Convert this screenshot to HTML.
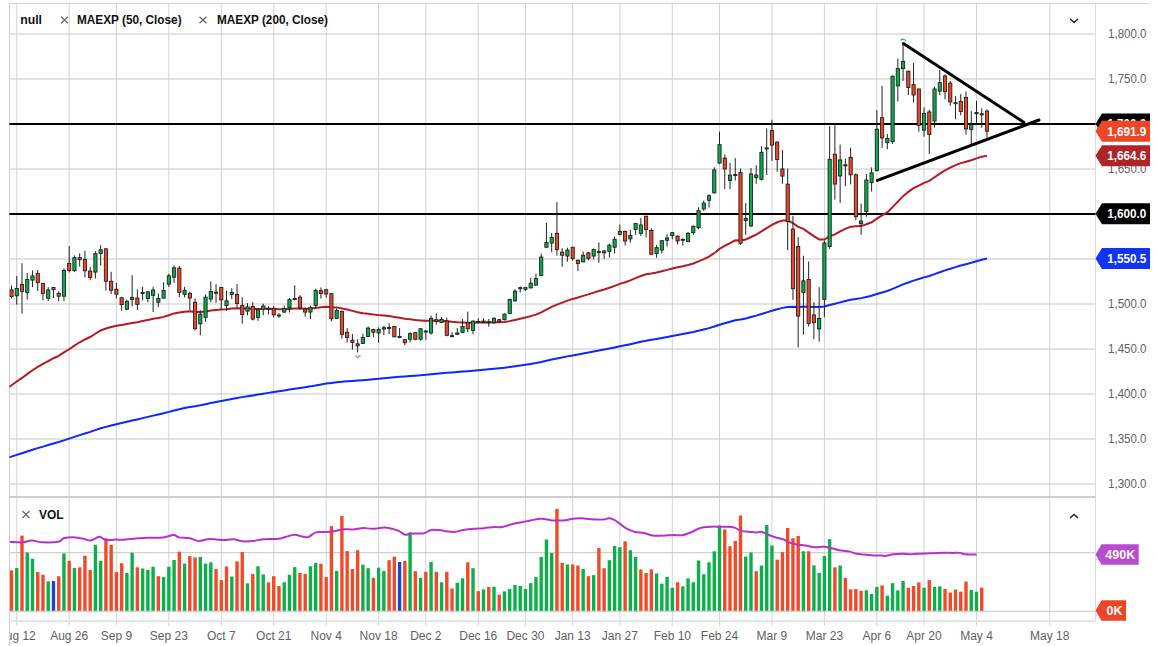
<!DOCTYPE html><html><head><meta charset="utf-8"><style>html,body{margin:0;padding:0;background:#fff;width:1158px;height:646px;overflow:hidden}svg{display:block}text{font-family:"Liberation Sans",sans-serif}</style></head><body>
<svg width="1158" height="646" viewBox="0 0 1158 646">
<defs><clipPath id="cm"><rect x="9.5" y="3.5" width="1086" height="493"/></clipPath><clipPath id="cx"><rect x="9.5" y="600" width="1100" height="46"/></clipPath><clipPath id="cv"><rect x="9.5" y="497" width="1086" height="124"/></clipPath></defs>
<line x1="16.75" y1="3.5" x2="16.75" y2="626" stroke="#d3d3d3" stroke-width="1"/>
<line x1="69.2" y1="3.5" x2="69.2" y2="626" stroke="#d3d3d3" stroke-width="1"/>
<line x1="116.4" y1="3.5" x2="116.4" y2="626" stroke="#d3d3d3" stroke-width="1"/>
<line x1="168.84" y1="3.5" x2="168.84" y2="626" stroke="#d3d3d3" stroke-width="1"/>
<line x1="221.29" y1="3.5" x2="221.29" y2="626" stroke="#d3d3d3" stroke-width="1"/>
<line x1="273.73" y1="3.5" x2="273.73" y2="626" stroke="#d3d3d3" stroke-width="1"/>
<line x1="326.18" y1="3.5" x2="326.18" y2="626" stroke="#d3d3d3" stroke-width="1"/>
<line x1="378.62" y1="3.5" x2="378.62" y2="626" stroke="#d3d3d3" stroke-width="1"/>
<line x1="425.82" y1="3.5" x2="425.82" y2="626" stroke="#d3d3d3" stroke-width="1"/>
<line x1="478.27" y1="3.5" x2="478.27" y2="626" stroke="#d3d3d3" stroke-width="1"/>
<line x1="525.47" y1="3.5" x2="525.47" y2="626" stroke="#d3d3d3" stroke-width="1"/>
<line x1="572.67" y1="3.5" x2="572.67" y2="626" stroke="#d3d3d3" stroke-width="1"/>
<line x1="619.87" y1="3.5" x2="619.87" y2="626" stroke="#d3d3d3" stroke-width="1"/>
<line x1="672.31" y1="3.5" x2="672.31" y2="626" stroke="#d3d3d3" stroke-width="1"/>
<line x1="719.51" y1="3.5" x2="719.51" y2="626" stroke="#d3d3d3" stroke-width="1"/>
<line x1="771.96" y1="3.5" x2="771.96" y2="626" stroke="#d3d3d3" stroke-width="1"/>
<line x1="824.4" y1="3.5" x2="824.4" y2="626" stroke="#d3d3d3" stroke-width="1"/>
<line x1="876.85" y1="3.5" x2="876.85" y2="626" stroke="#d3d3d3" stroke-width="1"/>
<line x1="924.05" y1="3.5" x2="924.05" y2="626" stroke="#d3d3d3" stroke-width="1"/>
<line x1="976.49" y1="3.5" x2="976.49" y2="626" stroke="#d3d3d3" stroke-width="1"/>
<line x1="1049.8" y1="3.5" x2="1049.8" y2="626" stroke="#d3d3d3" stroke-width="1"/>
<line x1="9.5" y1="34" x2="1095.5" y2="34" stroke="#c6c6c6" stroke-width="1"/>
<line x1="9.5" y1="79" x2="1095.5" y2="79" stroke="#c6c6c6" stroke-width="1"/>
<line x1="9.5" y1="124" x2="1095.5" y2="124" stroke="#c6c6c6" stroke-width="1"/>
<line x1="9.5" y1="169" x2="1095.5" y2="169" stroke="#c6c6c6" stroke-width="1"/>
<line x1="9.5" y1="214" x2="1095.5" y2="214" stroke="#c6c6c6" stroke-width="1"/>
<line x1="9.5" y1="259" x2="1095.5" y2="259" stroke="#c6c6c6" stroke-width="1"/>
<line x1="9.5" y1="304" x2="1095.5" y2="304" stroke="#c6c6c6" stroke-width="1"/>
<line x1="9.5" y1="349" x2="1095.5" y2="349" stroke="#c6c6c6" stroke-width="1"/>
<line x1="9.5" y1="394" x2="1095.5" y2="394" stroke="#c6c6c6" stroke-width="1"/>
<line x1="9.5" y1="439" x2="1095.5" y2="439" stroke="#c6c6c6" stroke-width="1"/>
<line x1="9.5" y1="484" x2="1095.5" y2="484" stroke="#c6c6c6" stroke-width="1"/>
<line x1="9.5" y1="552.7" x2="1095.5" y2="552.7" stroke="#c6c6c6" stroke-width="1"/>
<line x1="9.5" y1="611.3" x2="1095.5" y2="611.3" stroke="#c6c6c6" stroke-width="1"/>
<line x1="9.5" y1="3.5" x2="1149" y2="3.5" stroke="#cfcfcf" stroke-width="1"/>
<line x1="9.5" y1="3.5" x2="9.5" y2="646" stroke="#cfcfcf" stroke-width="1"/>
<line x1="1095.5" y1="3.5" x2="1095.5" y2="621" stroke="#dcdcdc" stroke-width="1"/>
<line x1="9.5" y1="497" x2="1095.5" y2="497" stroke="#cdcdcd" stroke-width="2"/>
<line x1="9.5" y1="621" x2="1095.5" y2="621" stroke="#dcdcdc" stroke-width="1.5"/>
<g clip-path="url(#cm)">
<line x1="9" y1="124" x2="1096" y2="124" stroke="#000" stroke-width="2"/>
<line x1="9" y1="214" x2="1096" y2="214" stroke="#000" stroke-width="2"/>
<path d="M6.26 388.9 L11.51 385.28 L16.75 381.49 L21.99 377.95 L27.24 374.09 L32.48 370.24 L37.73 366.81 L42.97 363.93 L48.22 361.03 L53.46 358.23 L58.71 355.8 L63.95 352.45 L69.2 349.23 L74.44 345.64 L79.68 342.27 L84.93 339.47 L90.17 337.03 L95.42 333.76 L100.66 330.47 L105.91 328.54 L111.15 327.04 L116.4 325.75 L121.64 324.92 L126.88 323.99 L132.13 322.95 L137.37 322.22 L142.62 321.09 L147.86 319.95 L153.11 318.77 L158.35 317.98 L163.6 316.9 L168.84 315.28 L174.09 313.42 L179.33 312.6 L184.57 311.73 L189.82 311.2 L195.06 311.89 L200.31 311.97 L205.55 311.39 L210.8 310.61 L216.04 309.93 L221.29 309.54 L226.53 309.2 L231.77 308.53 L237.02 308.33 L242.26 308.58 L247.51 308.51 L252.75 308.93 L258 308.96 L263.24 308.84 L268.49 308.82 L273.73 309.06 L278.98 309.31 L284.22 309.28 L289.46 308.9 L294.71 308.53 L299.95 308.51 L305.2 308.65 L310.44 308.6 L315.69 307.89 L320.93 307.33 L326.18 306.8 L331.42 307.27 L336.66 307.39 L341.91 308.45 L347.15 309.59 L352.4 310.88 L357.64 312.24 L362.89 313.23 L368.13 313.81 L373.38 314.54 L378.62 315.12 L383.87 315.62 L389.11 316.08 L394.35 316.89 L399.6 317.69 L404.84 318.67 L410.09 319.26 L415.33 320.04 L420.58 320.38 L425.82 320.8 L431.07 320.7 L436.31 320.73 L441.55 320.68 L446.8 321.26 L452.04 321.85 L457.29 322.28 L462.53 322.44 L467.78 322.69 L473.02 322.63 L478.27 322.58 L483.51 322.52 L488.76 322.53 L494 322.36 L499.24 322.32 L504.49 322 L509.73 321.12 L514.98 319.94 L520.22 318.67 L525.47 317.46 L530.71 316.11 L535.96 314.64 L541.2 312.38 L546.44 309.64 L551.69 306.81 L556.93 304.57 L562.18 302.63 L567.42 300.57 L572.67 298.91 L577.91 297.53 L583.16 295.87 L588.4 294.4 L593.65 292.64 L598.89 291.03 L604.13 289.54 L609.38 287.8 L614.62 285.9 L619.87 283.87 L625.11 282.19 L630.36 280.36 L635.6 278.13 L640.85 276.05 L646.09 274.22 L651.33 273.44 L656.58 272.43 L661.82 271.18 L667.07 269.88 L672.31 268.42 L677.56 267.34 L682.8 266.25 L688.05 264.95 L693.29 263.44 L698.54 261.37 L703.78 259.08 L709.02 256.6 L714.27 253.2 L719.51 248.94 L724.76 245.81 L730 243.03 L735.25 240.35 L740.49 240.46 L745.74 239.6 L750.98 237.02 L756.22 234.59 L761.47 231.36 L766.71 228.09 L771.96 224.83 L777.2 222.27 L782.45 220.46 L787.69 220.5 L792.94 223.18 L798.18 226.82 L803.43 228.94 L808.67 232.65 L813.91 236.17 L819.16 239.4 L824.4 239.54 L829.65 236.39 L834.89 234.34 L840.14 231.42 L845.38 228.81 L850.63 226.69 L855.87 226.3 L861.11 226.09 L866.36 224.28 L871.6 222.27 L876.85 218.62 L882.09 215.45 L887.34 212.43 L892.58 207.09 L897.83 201.65 L903.07 196.15 L908.32 191.89 L913.56 188.09 L918.8 185.63 L924.05 182.8 L929.29 180.91 L934.54 177.3 L939.78 173.59 L945.03 170.38 L950.27 167.7 L955.52 165.19 L960.76 163.08 L966 161.74 L971.25 160.27 L976.49 158.4 L981.74 156.65 L986.98 155.65" fill="none" stroke="#b31a22" stroke-width="2"/>
<path d="M6.26 458.2 L11.51 456.59 L16.75 454.92 L21.99 453.29 L27.24 451.56 L32.48 449.82 L37.73 448.15 L42.97 446.61 L48.22 445.05 L53.46 443.51 L58.71 442.04 L63.95 440.33 L69.2 438.64 L74.44 436.84 L79.68 435.08 L84.93 433.45 L90.17 431.89 L95.42 430.12 L100.66 428.32 L105.91 426.86 L111.15 425.5 L116.4 424.19 L121.64 423.01 L126.88 421.79 L132.13 420.56 L137.37 419.4 L142.62 418.15 L147.86 416.89 L153.11 415.63 L158.35 414.46 L163.6 413.23 L168.84 411.86 L174.09 410.43 L179.33 409.25 L184.57 408.07 L189.82 406.98 L195.06 406.2 L200.31 405.28 L205.55 404.21 L210.8 403.08 L216.04 401.99 L221.29 400.98 L226.53 399.98 L231.77 398.91 L237.02 397.96 L242.26 397.13 L247.51 396.23 L252.75 395.46 L258 394.61 L263.24 393.73 L268.49 392.88 L273.73 392.1 L278.98 391.34 L284.22 390.51 L289.46 389.61 L294.71 388.71 L299.95 387.91 L305.2 387.16 L310.44 386.36 L315.69 385.41 L320.93 384.49 L326.18 383.59 L331.42 382.95 L336.66 382.23 L341.91 381.75 L347.15 381.31 L352.4 380.92 L357.64 380.57 L362.89 380.14 L368.13 379.63 L373.38 379.15 L378.62 378.66 L383.87 378.15 L389.11 377.65 L394.35 377.24 L399.6 376.84 L404.84 376.5 L410.09 376.08 L415.33 375.71 L420.58 375.24 L425.82 374.8 L431.07 374.24 L436.31 373.72 L441.55 373.18 L446.8 372.8 L452.04 372.44 L457.29 372.04 L462.53 371.59 L467.78 371.16 L473.02 370.67 L478.27 370.17 L483.51 369.69 L488.76 369.22 L494 368.71 L499.24 368.24 L504.49 367.7 L509.73 367.02 L514.98 366.27 L520.22 365.49 L525.47 364.71 L530.71 363.9 L535.96 363.05 L541.2 362 L546.44 360.81 L551.69 359.58 L556.93 358.48 L562.18 357.46 L567.42 356.39 L572.67 355.41 L577.91 354.5 L583.16 353.51 L588.4 352.57 L593.65 351.54 L598.89 350.55 L604.13 349.57 L609.38 348.54 L614.62 347.45 L619.87 346.32 L625.11 345.28 L630.36 344.18 L635.6 342.98 L640.85 341.81 L646.09 340.69 L651.33 339.83 L656.58 338.91 L661.82 337.94 L667.07 336.94 L672.31 335.9 L677.56 334.96 L682.8 334.01 L688.05 333.01 L693.29 331.94 L698.54 330.74 L703.78 329.47 L709.02 328.14 L714.27 326.56 L719.51 324.75 L724.76 323.2 L730 321.73 L735.25 320.26 L740.49 319.5 L745.74 318.49 L750.98 317.05 L756.22 315.64 L761.47 314.01 L766.71 312.36 L771.96 310.7 L777.2 309.19 L782.45 307.87 L787.69 307.01 L792.94 306.83 L798.18 306.92 L803.43 306.66 L808.67 306.83 L813.91 306.98 L819.16 307.1 L824.4 306.46 L829.65 304.99 L834.89 303.79 L840.14 302.36 L845.38 300.99 L850.63 299.74 L855.87 298.91 L861.11 298.13 L866.36 296.96 L871.6 295.72 L876.85 294.07 L882.09 292.51 L887.34 290.98 L892.58 288.84 L897.83 286.65 L903.07 284.41 L908.32 282.45 L913.56 280.58 L918.8 279.04 L924.05 277.39 L929.29 275.97 L934.54 274.11 L939.78 272.2 L945.03 270.41 L950.27 268.73 L955.52 267.09 L960.76 265.54 L966 264.18 L971.25 262.79 L976.49 261.29 L981.74 259.83 L986.98 258.55" fill="none" stroke="#0a28ff" stroke-width="2"/>
<line x1="11.51" y1="285.47" x2="11.51" y2="298.29" stroke="#222" stroke-width="1"/>
<rect x="9.91" y="289.93" width="3.2" height="6.69" fill="#ee4527" stroke="#1a1a1a" stroke-width="0.85"/>
<line x1="16.75" y1="275.99" x2="16.75" y2="304.56" stroke="#222" stroke-width="1"/>
<rect x="15.15" y="288.54" width="3.2" height="7.25" fill="#07ad4b" stroke="#1a1a1a" stroke-width="0.85"/>
<line x1="21.99" y1="263.17" x2="21.99" y2="313.62" stroke="#222" stroke-width="1"/>
<rect x="20.39" y="284.36" width="3.2" height="6.97" fill="#ee4527" stroke="#1a1a1a" stroke-width="0.85"/>
<line x1="27.24" y1="272.93" x2="27.24" y2="299.69" stroke="#222" stroke-width="1"/>
<rect x="25.64" y="279.48" width="3.2" height="12.96" fill="#07ad4b" stroke="#1a1a1a" stroke-width="0.85"/>
<line x1="32.48" y1="270.42" x2="32.48" y2="287.14" stroke="#222" stroke-width="1"/>
<rect x="30.88" y="275.99" width="3.2" height="4.18" fill="#07ad4b" stroke="#1a1a1a" stroke-width="0.85"/>
<line x1="37.73" y1="270" x2="37.73" y2="290.91" stroke="#222" stroke-width="1"/>
<rect x="36.13" y="273.48" width="3.2" height="9.2" fill="#ee4527" stroke="#1a1a1a" stroke-width="0.85"/>
<line x1="42.97" y1="282.96" x2="42.97" y2="300.38" stroke="#222" stroke-width="1"/>
<rect x="41.37" y="283.38" width="3.2" height="10.03" fill="#ee4527" stroke="#1a1a1a" stroke-width="0.85"/>
<line x1="48.22" y1="287.14" x2="48.22" y2="301.08" stroke="#222" stroke-width="1"/>
<rect x="46.62" y="289.93" width="3.2" height="8.36" fill="#07ad4b" stroke="#1a1a1a" stroke-width="0.85"/>
<line x1="53.46" y1="287.14" x2="53.46" y2="298.01" stroke="#222" stroke-width="1"/>
<rect x="51.86" y="287.56" width="3.2" height="2.09" fill="#ee4527" stroke="#1a1a1a" stroke-width="0.85"/>
<line x1="58.71" y1="291.32" x2="58.71" y2="301.36" stroke="#222" stroke-width="1"/>
<rect x="57.11" y="293.41" width="3.2" height="2.79" fill="#ee4527" stroke="#1a1a1a" stroke-width="0.85"/>
<line x1="63.95" y1="268.33" x2="63.95" y2="300.8" stroke="#222" stroke-width="1"/>
<rect x="62.35" y="270.42" width="3.2" height="25.78" fill="#07ad4b" stroke="#1a1a1a" stroke-width="0.85"/>
<line x1="69.2" y1="246.03" x2="69.2" y2="272.51" stroke="#222" stroke-width="1"/>
<rect x="67.6" y="263.45" width="3.2" height="6.97" fill="#ee4527" stroke="#1a1a1a" stroke-width="0.85"/>
<line x1="74.44" y1="255.37" x2="74.44" y2="271.81" stroke="#222" stroke-width="1"/>
<rect x="72.84" y="257.6" width="3.2" height="13.1" fill="#07ad4b" stroke="#1a1a1a" stroke-width="0.85"/>
<line x1="79.68" y1="253.41" x2="79.68" y2="266.52" stroke="#222" stroke-width="1"/>
<rect x="78.08" y="257.6" width="3.2" height="2.09" fill="#ee4527" stroke="#1a1a1a" stroke-width="0.85"/>
<line x1="84.93" y1="250.63" x2="84.93" y2="277.39" stroke="#222" stroke-width="1"/>
<rect x="83.33" y="259.55" width="3.2" height="11.29" fill="#ee4527" stroke="#1a1a1a" stroke-width="0.85"/>
<line x1="90.17" y1="266.93" x2="90.17" y2="280.17" stroke="#222" stroke-width="1"/>
<rect x="88.57" y="271.11" width="3.2" height="6.27" fill="#ee4527" stroke="#1a1a1a" stroke-width="0.85"/>
<line x1="95.42" y1="251.18" x2="95.42" y2="278.5" stroke="#222" stroke-width="1"/>
<rect x="93.82" y="253.69" width="3.2" height="18.4" fill="#07ad4b" stroke="#1a1a1a" stroke-width="0.85"/>
<line x1="100.66" y1="245.05" x2="100.66" y2="265.54" stroke="#222" stroke-width="1"/>
<rect x="99.06" y="249.79" width="3.2" height="3.62" fill="#07ad4b" stroke="#1a1a1a" stroke-width="0.85"/>
<line x1="105.91" y1="248.12" x2="105.91" y2="290.63" stroke="#222" stroke-width="1"/>
<rect x="104.31" y="248.82" width="3.2" height="32.47" fill="#ee4527" stroke="#1a1a1a" stroke-width="0.85"/>
<line x1="111.15" y1="271.81" x2="111.15" y2="294.11" stroke="#222" stroke-width="1"/>
<rect x="109.55" y="281.29" width="3.2" height="8.92" fill="#ee4527" stroke="#1a1a1a" stroke-width="0.85"/>
<line x1="116.4" y1="282.96" x2="116.4" y2="298.57" stroke="#222" stroke-width="1"/>
<rect x="114.8" y="289.23" width="3.2" height="4.88" fill="#ee4527" stroke="#1a1a1a" stroke-width="0.85"/>
<line x1="121.64" y1="296.69" x2="121.64" y2="310.63" stroke="#222" stroke-width="1"/>
<rect x="120.04" y="297.8" width="3.2" height="6.83" fill="#ee4527" stroke="#1a1a1a" stroke-width="0.85"/>
<line x1="126.88" y1="299.48" x2="126.88" y2="309.93" stroke="#222" stroke-width="1"/>
<rect x="125.28" y="301.29" width="3.2" height="7.94" fill="#07ad4b" stroke="#1a1a1a" stroke-width="0.85"/>
<line x1="132.13" y1="275.09" x2="132.13" y2="306.45" stroke="#222" stroke-width="1"/>
<rect x="130.53" y="297.39" width="3.2" height="2.09" fill="#07ad4b" stroke="#1a1a1a" stroke-width="0.85"/>
<line x1="137.37" y1="289.44" x2="137.37" y2="309.93" stroke="#222" stroke-width="1"/>
<rect x="135.77" y="298.08" width="3.2" height="6.27" fill="#ee4527" stroke="#1a1a1a" stroke-width="0.85"/>
<line x1="142.62" y1="286.93" x2="142.62" y2="300.45" stroke="#222" stroke-width="1"/>
<rect x="141.02" y="292.51" width="3.2" height="1" fill="#ee4527" stroke="#1a1a1a" stroke-width="0.85"/>
<line x1="147.86" y1="291.11" x2="147.86" y2="302.26" stroke="#222" stroke-width="1"/>
<rect x="146.26" y="291.81" width="3.2" height="6.69" fill="#07ad4b" stroke="#1a1a1a" stroke-width="0.85"/>
<line x1="153.11" y1="286.93" x2="153.11" y2="312.02" stroke="#222" stroke-width="1"/>
<rect x="151.51" y="290" width="3.2" height="5.3" fill="#07ad4b" stroke="#1a1a1a" stroke-width="0.85"/>
<line x1="158.35" y1="293.48" x2="158.35" y2="307.14" stroke="#222" stroke-width="1"/>
<rect x="156.75" y="298.5" width="3.2" height="3.76" fill="#07ad4b" stroke="#1a1a1a" stroke-width="0.85"/>
<line x1="163.6" y1="282.33" x2="163.6" y2="298.78" stroke="#222" stroke-width="1"/>
<rect x="162" y="290.42" width="3.2" height="7.67" fill="#07ad4b" stroke="#1a1a1a" stroke-width="0.85"/>
<line x1="168.84" y1="273.69" x2="168.84" y2="286.93" stroke="#222" stroke-width="1"/>
<rect x="167.24" y="275.78" width="3.2" height="8.36" fill="#07ad4b" stroke="#1a1a1a" stroke-width="0.85"/>
<line x1="174.09" y1="265.33" x2="174.09" y2="282.75" stroke="#222" stroke-width="1"/>
<rect x="172.49" y="267.84" width="3.2" height="9.34" fill="#07ad4b" stroke="#1a1a1a" stroke-width="0.85"/>
<line x1="179.33" y1="266.03" x2="179.33" y2="297.11" stroke="#222" stroke-width="1"/>
<rect x="177.73" y="268.12" width="3.2" height="24.39" fill="#ee4527" stroke="#1a1a1a" stroke-width="0.85"/>
<line x1="184.57" y1="286.93" x2="184.57" y2="297.39" stroke="#222" stroke-width="1"/>
<rect x="182.97" y="290.42" width="3.2" height="3.9" fill="#07ad4b" stroke="#1a1a1a" stroke-width="0.85"/>
<line x1="189.82" y1="291.53" x2="189.82" y2="309.93" stroke="#222" stroke-width="1"/>
<rect x="188.22" y="293.48" width="3.2" height="4.6" fill="#ee4527" stroke="#1a1a1a" stroke-width="0.85"/>
<line x1="195.06" y1="298.36" x2="195.06" y2="330.14" stroke="#222" stroke-width="1"/>
<rect x="193.46" y="302.26" width="3.2" height="26.48" fill="#ee4527" stroke="#1a1a1a" stroke-width="0.85"/>
<line x1="200.31" y1="310.21" x2="200.31" y2="335.3" stroke="#222" stroke-width="1"/>
<rect x="198.71" y="314.11" width="3.2" height="9.76" fill="#07ad4b" stroke="#1a1a1a" stroke-width="0.85"/>
<line x1="205.55" y1="294.32" x2="205.55" y2="321.78" stroke="#222" stroke-width="1"/>
<rect x="203.95" y="297.11" width="3.2" height="20.21" fill="#07ad4b" stroke="#1a1a1a" stroke-width="0.85"/>
<line x1="210.8" y1="281.36" x2="210.8" y2="302.26" stroke="#222" stroke-width="1"/>
<rect x="209.2" y="291.53" width="3.2" height="7.53" fill="#07ad4b" stroke="#1a1a1a" stroke-width="0.85"/>
<line x1="216.04" y1="284.15" x2="216.04" y2="302.68" stroke="#222" stroke-width="1"/>
<rect x="214.44" y="292.09" width="3.2" height="1.11" fill="#ee4527" stroke="#1a1a1a" stroke-width="0.85"/>
<line x1="221.29" y1="287.35" x2="221.29" y2="309.23" stroke="#222" stroke-width="1"/>
<rect x="219.69" y="287.35" width="3.2" height="12.54" fill="#ee4527" stroke="#1a1a1a" stroke-width="0.85"/>
<line x1="226.53" y1="290.7" x2="226.53" y2="310.63" stroke="#222" stroke-width="1"/>
<rect x="224.93" y="300.87" width="3.2" height="4.6" fill="#07ad4b" stroke="#1a1a1a" stroke-width="0.85"/>
<line x1="231.77" y1="288.12" x2="231.77" y2="298.99" stroke="#222" stroke-width="1"/>
<rect x="230.17" y="292.3" width="3.2" height="2.09" fill="#07ad4b" stroke="#1a1a1a" stroke-width="0.85"/>
<line x1="237.02" y1="283.94" x2="237.02" y2="307.63" stroke="#222" stroke-width="1"/>
<rect x="235.42" y="294.39" width="3.2" height="9.06" fill="#ee4527" stroke="#1a1a1a" stroke-width="0.85"/>
<line x1="242.26" y1="297.18" x2="242.26" y2="323.66" stroke="#222" stroke-width="1"/>
<rect x="240.66" y="305.54" width="3.2" height="9.06" fill="#ee4527" stroke="#1a1a1a" stroke-width="0.85"/>
<line x1="247.51" y1="303.17" x2="247.51" y2="315.3" stroke="#222" stroke-width="1"/>
<rect x="245.91" y="306.93" width="3.2" height="4.18" fill="#07ad4b" stroke="#1a1a1a" stroke-width="0.85"/>
<line x1="252.75" y1="302.06" x2="252.75" y2="320.45" stroke="#222" stroke-width="1"/>
<rect x="251.15" y="306.52" width="3.2" height="12.54" fill="#ee4527" stroke="#1a1a1a" stroke-width="0.85"/>
<line x1="258" y1="308.33" x2="258" y2="320.87" stroke="#222" stroke-width="1"/>
<rect x="256.4" y="309.72" width="3.2" height="7.67" fill="#07ad4b" stroke="#1a1a1a" stroke-width="0.85"/>
<line x1="263.24" y1="303.73" x2="263.24" y2="315.3" stroke="#222" stroke-width="1"/>
<rect x="261.64" y="305.96" width="3.2" height="3.34" fill="#07ad4b" stroke="#1a1a1a" stroke-width="0.85"/>
<line x1="268.49" y1="306.24" x2="268.49" y2="314.32" stroke="#222" stroke-width="1"/>
<rect x="266.89" y="308.33" width="3.2" height="1" fill="#07ad4b" stroke="#1a1a1a" stroke-width="0.85"/>
<line x1="273.73" y1="305.96" x2="273.73" y2="317.39" stroke="#222" stroke-width="1"/>
<rect x="272.13" y="308.33" width="3.2" height="6.55" fill="#ee4527" stroke="#1a1a1a" stroke-width="0.85"/>
<line x1="278.98" y1="313.21" x2="278.98" y2="317.67" stroke="#222" stroke-width="1"/>
<rect x="277.38" y="315.02" width="3.2" height="1" fill="#ee4527" stroke="#1a1a1a" stroke-width="0.85"/>
<line x1="284.22" y1="305.54" x2="284.22" y2="312.51" stroke="#222" stroke-width="1"/>
<rect x="282.62" y="308.33" width="3.2" height="3.76" fill="#07ad4b" stroke="#1a1a1a" stroke-width="0.85"/>
<line x1="289.46" y1="297.87" x2="289.46" y2="312.51" stroke="#222" stroke-width="1"/>
<rect x="287.86" y="299.69" width="3.2" height="8.22" fill="#07ad4b" stroke="#1a1a1a" stroke-width="0.85"/>
<line x1="294.71" y1="285.33" x2="294.71" y2="300.38" stroke="#222" stroke-width="1"/>
<rect x="293.11" y="298.57" width="3.2" height="1" fill="#ee4527" stroke="#1a1a1a" stroke-width="0.85"/>
<line x1="299.95" y1="295.09" x2="299.95" y2="309.72" stroke="#222" stroke-width="1"/>
<rect x="298.35" y="297.18" width="3.2" height="10.73" fill="#ee4527" stroke="#1a1a1a" stroke-width="0.85"/>
<line x1="305.2" y1="307.63" x2="305.2" y2="316.69" stroke="#222" stroke-width="1"/>
<rect x="303.6" y="309.02" width="3.2" height="3.07" fill="#ee4527" stroke="#1a1a1a" stroke-width="0.85"/>
<line x1="310.44" y1="305.54" x2="310.44" y2="319.06" stroke="#222" stroke-width="1"/>
<rect x="308.84" y="307.35" width="3.2" height="4.74" fill="#07ad4b" stroke="#1a1a1a" stroke-width="0.85"/>
<line x1="315.69" y1="288.82" x2="315.69" y2="307.63" stroke="#222" stroke-width="1"/>
<rect x="314.09" y="290.63" width="3.2" height="14.91" fill="#07ad4b" stroke="#1a1a1a" stroke-width="0.85"/>
<line x1="320.93" y1="287.42" x2="320.93" y2="298.57" stroke="#222" stroke-width="1"/>
<rect x="319.33" y="290.63" width="3.2" height="2.79" fill="#ee4527" stroke="#1a1a1a" stroke-width="0.85"/>
<line x1="326.18" y1="288.82" x2="326.18" y2="297.6" stroke="#222" stroke-width="1"/>
<rect x="324.58" y="289.79" width="3.2" height="4.18" fill="#ee4527" stroke="#1a1a1a" stroke-width="0.85"/>
<line x1="331.42" y1="293" x2="331.42" y2="321.29" stroke="#222" stroke-width="1"/>
<rect x="329.82" y="293.69" width="3.2" height="25.09" fill="#ee4527" stroke="#1a1a1a" stroke-width="0.85"/>
<line x1="336.66" y1="308.57" x2="336.66" y2="318.75" stroke="#222" stroke-width="1"/>
<rect x="335.06" y="310.38" width="3.2" height="7.94" fill="#07ad4b" stroke="#1a1a1a" stroke-width="0.85"/>
<line x1="341.91" y1="310.66" x2="341.91" y2="338.54" stroke="#222" stroke-width="1"/>
<rect x="340.31" y="311.36" width="3.2" height="23" fill="#ee4527" stroke="#1a1a1a" stroke-width="0.85"/>
<line x1="347.15" y1="328.08" x2="347.15" y2="342.44" stroke="#222" stroke-width="1"/>
<rect x="345.55" y="332.26" width="3.2" height="5.16" fill="#ee4527" stroke="#1a1a1a" stroke-width="0.85"/>
<line x1="352.4" y1="334.08" x2="352.4" y2="349.69" stroke="#222" stroke-width="1"/>
<rect x="350.8" y="340.21" width="3.2" height="2.23" fill="#ee4527" stroke="#1a1a1a" stroke-width="0.85"/>
<line x1="357.64" y1="339.23" x2="357.64" y2="352.47" stroke="#222" stroke-width="1"/>
<rect x="356.04" y="343.83" width="3.2" height="1.95" fill="#ee4527" stroke="#1a1a1a" stroke-width="0.85"/>
<line x1="362.89" y1="333.66" x2="362.89" y2="343.83" stroke="#222" stroke-width="1"/>
<rect x="361.29" y="337.42" width="3.2" height="5.99" fill="#07ad4b" stroke="#1a1a1a" stroke-width="0.85"/>
<line x1="368.13" y1="326.69" x2="368.13" y2="337.14" stroke="#222" stroke-width="1"/>
<rect x="366.53" y="328.08" width="3.2" height="8.36" fill="#07ad4b" stroke="#1a1a1a" stroke-width="0.85"/>
<line x1="373.38" y1="328.78" x2="373.38" y2="337.14" stroke="#222" stroke-width="1"/>
<rect x="371.78" y="329.48" width="3.2" height="2.79" fill="#ee4527" stroke="#1a1a1a" stroke-width="0.85"/>
<line x1="378.62" y1="327.39" x2="378.62" y2="342.72" stroke="#222" stroke-width="1"/>
<rect x="377.02" y="329.48" width="3.2" height="3.48" fill="#07ad4b" stroke="#1a1a1a" stroke-width="0.85"/>
<line x1="383.87" y1="325.99" x2="383.87" y2="335.05" stroke="#222" stroke-width="1"/>
<rect x="382.26" y="327.67" width="3.2" height="1.39" fill="#07ad4b" stroke="#1a1a1a" stroke-width="0.85"/>
<line x1="389.11" y1="323.21" x2="389.11" y2="334.08" stroke="#222" stroke-width="1"/>
<rect x="387.51" y="327.39" width="3.2" height="1" fill="#07ad4b" stroke="#1a1a1a" stroke-width="0.85"/>
<line x1="394.35" y1="325.99" x2="394.35" y2="337.14" stroke="#222" stroke-width="1"/>
<rect x="392.75" y="326.41" width="3.2" height="10.45" fill="#ee4527" stroke="#1a1a1a" stroke-width="0.85"/>
<line x1="399.6" y1="328.08" x2="399.6" y2="338.26" stroke="#222" stroke-width="1"/>
<rect x="398" y="336.45" width="3.2" height="1" fill="#ee4527" stroke="#1a1a1a" stroke-width="0.85"/>
<line x1="404.84" y1="339.23" x2="404.84" y2="345.23" stroke="#222" stroke-width="1"/>
<rect x="403.24" y="339.65" width="3.2" height="3.07" fill="#ee4527" stroke="#1a1a1a" stroke-width="0.85"/>
<line x1="410.09" y1="332.26" x2="410.09" y2="342.44" stroke="#222" stroke-width="1"/>
<rect x="408.49" y="333.66" width="3.2" height="5.57" fill="#07ad4b" stroke="#1a1a1a" stroke-width="0.85"/>
<line x1="415.33" y1="332.26" x2="415.33" y2="340.21" stroke="#222" stroke-width="1"/>
<rect x="413.73" y="332.68" width="3.2" height="6.55" fill="#ee4527" stroke="#1a1a1a" stroke-width="0.85"/>
<line x1="420.58" y1="328.08" x2="420.58" y2="340.63" stroke="#222" stroke-width="1"/>
<rect x="418.98" y="328.78" width="3.2" height="10.45" fill="#07ad4b" stroke="#1a1a1a" stroke-width="0.85"/>
<line x1="425.82" y1="330.17" x2="425.82" y2="339.65" stroke="#222" stroke-width="1"/>
<rect x="424.22" y="331.01" width="3.2" height="1" fill="#07ad4b" stroke="#1a1a1a" stroke-width="0.85"/>
<line x1="431.07" y1="315.54" x2="431.07" y2="334.63" stroke="#222" stroke-width="1"/>
<rect x="429.47" y="318.33" width="3.2" height="14.63" fill="#07ad4b" stroke="#1a1a1a" stroke-width="0.85"/>
<line x1="436.31" y1="313.45" x2="436.31" y2="324.6" stroke="#222" stroke-width="1"/>
<rect x="434.71" y="319.72" width="3.2" height="1.81" fill="#ee4527" stroke="#1a1a1a" stroke-width="0.85"/>
<line x1="441.55" y1="317.18" x2="441.55" y2="323.17" stroke="#222" stroke-width="1"/>
<rect x="439.95" y="319.41" width="3.2" height="3.07" fill="#07ad4b" stroke="#1a1a1a" stroke-width="0.85"/>
<line x1="446.8" y1="317.6" x2="446.8" y2="336.41" stroke="#222" stroke-width="1"/>
<rect x="445.2" y="321.08" width="3.2" height="14.22" fill="#ee4527" stroke="#1a1a1a" stroke-width="0.85"/>
<line x1="452.04" y1="332.23" x2="452.04" y2="337.11" stroke="#222" stroke-width="1"/>
<rect x="450.44" y="335.71" width="3.2" height="1" fill="#ee4527" stroke="#1a1a1a" stroke-width="0.85"/>
<line x1="457.29" y1="328.05" x2="457.29" y2="335.02" stroke="#222" stroke-width="1"/>
<rect x="455.69" y="332.93" width="3.2" height="1.39" fill="#07ad4b" stroke="#1a1a1a" stroke-width="0.85"/>
<line x1="462.53" y1="318.99" x2="462.53" y2="332.93" stroke="#222" stroke-width="1"/>
<rect x="460.93" y="326.38" width="3.2" height="6.13" fill="#07ad4b" stroke="#1a1a1a" stroke-width="0.85"/>
<line x1="467.78" y1="311.6" x2="467.78" y2="332.23" stroke="#222" stroke-width="1"/>
<rect x="466.18" y="322.75" width="3.2" height="5.99" fill="#ee4527" stroke="#1a1a1a" stroke-width="0.85"/>
<line x1="473.02" y1="320.38" x2="473.02" y2="334.32" stroke="#222" stroke-width="1"/>
<rect x="471.42" y="321.08" width="3.2" height="9.48" fill="#07ad4b" stroke="#1a1a1a" stroke-width="0.85"/>
<line x1="478.27" y1="318.29" x2="478.27" y2="323.17" stroke="#222" stroke-width="1"/>
<rect x="476.67" y="321.36" width="3.2" height="1" fill="#07ad4b" stroke="#1a1a1a" stroke-width="0.85"/>
<line x1="483.51" y1="318.29" x2="483.51" y2="323.17" stroke="#222" stroke-width="1"/>
<rect x="481.91" y="321.08" width="3.2" height="1.11" fill="#07ad4b" stroke="#1a1a1a" stroke-width="0.85"/>
<line x1="488.76" y1="318.99" x2="488.76" y2="326.66" stroke="#222" stroke-width="1"/>
<rect x="487.16" y="321.78" width="3.2" height="1" fill="#ee4527" stroke="#1a1a1a" stroke-width="0.85"/>
<line x1="494" y1="317.18" x2="494" y2="323.87" stroke="#222" stroke-width="1"/>
<rect x="492.4" y="318.29" width="3.2" height="4.46" fill="#07ad4b" stroke="#1a1a1a" stroke-width="0.85"/>
<line x1="499.24" y1="318.99" x2="499.24" y2="322.2" stroke="#222" stroke-width="1"/>
<rect x="497.64" y="319.69" width="3.2" height="1.67" fill="#ee4527" stroke="#1a1a1a" stroke-width="0.85"/>
<line x1="504.49" y1="313.41" x2="504.49" y2="320.38" stroke="#222" stroke-width="1"/>
<rect x="502.89" y="314.11" width="3.2" height="5.57" fill="#07ad4b" stroke="#1a1a1a" stroke-width="0.85"/>
<line x1="509.73" y1="298.78" x2="509.73" y2="314.11" stroke="#222" stroke-width="1"/>
<rect x="508.13" y="299.48" width="3.2" height="13.94" fill="#07ad4b" stroke="#1a1a1a" stroke-width="0.85"/>
<line x1="514.98" y1="289.3" x2="514.98" y2="301.57" stroke="#222" stroke-width="1"/>
<rect x="513.38" y="291.11" width="3.2" height="9.76" fill="#07ad4b" stroke="#1a1a1a" stroke-width="0.85"/>
<line x1="520.22" y1="286.52" x2="520.22" y2="292.51" stroke="#222" stroke-width="1"/>
<rect x="518.62" y="287.63" width="3.2" height="1.11" fill="#07ad4b" stroke="#1a1a1a" stroke-width="0.85"/>
<line x1="525.47" y1="286.93" x2="525.47" y2="291.11" stroke="#222" stroke-width="1"/>
<rect x="523.87" y="287.63" width="3.2" height="1.67" fill="#07ad4b" stroke="#1a1a1a" stroke-width="0.85"/>
<line x1="530.71" y1="277.87" x2="530.71" y2="288.33" stroke="#222" stroke-width="1"/>
<rect x="529.11" y="283.17" width="3.2" height="4.74" fill="#07ad4b" stroke="#1a1a1a" stroke-width="0.85"/>
<line x1="535.96" y1="273.69" x2="535.96" y2="285.54" stroke="#222" stroke-width="1"/>
<rect x="534.36" y="278.57" width="3.2" height="6.55" fill="#07ad4b" stroke="#1a1a1a" stroke-width="0.85"/>
<line x1="541.2" y1="253.54" x2="541.2" y2="275.84" stroke="#222" stroke-width="1"/>
<rect x="539.6" y="257.02" width="3.2" height="18.54" fill="#07ad4b" stroke="#1a1a1a" stroke-width="0.85"/>
<line x1="546.44" y1="222.87" x2="546.44" y2="247.68" stroke="#222" stroke-width="1"/>
<rect x="544.84" y="242.39" width="3.2" height="4.88" fill="#07ad4b" stroke="#1a1a1a" stroke-width="0.85"/>
<line x1="551.69" y1="232.91" x2="551.69" y2="252.14" stroke="#222" stroke-width="1"/>
<rect x="550.09" y="237.51" width="3.2" height="5.57" fill="#07ad4b" stroke="#1a1a1a" stroke-width="0.85"/>
<line x1="556.93" y1="201.97" x2="556.93" y2="255.63" stroke="#222" stroke-width="1"/>
<rect x="555.33" y="233.33" width="3.2" height="16.31" fill="#ee4527" stroke="#1a1a1a" stroke-width="0.85"/>
<line x1="562.18" y1="248.24" x2="562.18" y2="266.78" stroke="#222" stroke-width="1"/>
<rect x="560.58" y="252.14" width="3.2" height="3.07" fill="#ee4527" stroke="#1a1a1a" stroke-width="0.85"/>
<line x1="567.42" y1="247.68" x2="567.42" y2="261.62" stroke="#222" stroke-width="1"/>
<rect x="565.82" y="250.05" width="3.2" height="5.99" fill="#07ad4b" stroke="#1a1a1a" stroke-width="0.85"/>
<line x1="572.67" y1="246.85" x2="572.67" y2="260.51" stroke="#222" stroke-width="1"/>
<rect x="571.07" y="247.26" width="3.2" height="11.15" fill="#ee4527" stroke="#1a1a1a" stroke-width="0.85"/>
<line x1="577.91" y1="259.81" x2="577.91" y2="270.96" stroke="#222" stroke-width="1"/>
<rect x="576.31" y="260.23" width="3.2" height="3.34" fill="#ee4527" stroke="#1a1a1a" stroke-width="0.85"/>
<line x1="583.16" y1="251.45" x2="583.16" y2="261.9" stroke="#222" stroke-width="1"/>
<rect x="581.56" y="255.21" width="3.2" height="6.69" fill="#07ad4b" stroke="#1a1a1a" stroke-width="0.85"/>
<line x1="588.4" y1="251.86" x2="588.4" y2="260.23" stroke="#222" stroke-width="1"/>
<rect x="586.8" y="252.84" width="3.2" height="5.57" fill="#ee4527" stroke="#1a1a1a" stroke-width="0.85"/>
<line x1="593.65" y1="248.66" x2="593.65" y2="259.39" stroke="#222" stroke-width="1"/>
<rect x="592.05" y="249.63" width="3.2" height="6.41" fill="#07ad4b" stroke="#1a1a1a" stroke-width="0.85"/>
<line x1="598.89" y1="242.39" x2="598.89" y2="262.6" stroke="#222" stroke-width="1"/>
<rect x="597.29" y="251.59" width="3.2" height="1" fill="#07ad4b" stroke="#1a1a1a" stroke-width="0.85"/>
<line x1="604.13" y1="250.05" x2="604.13" y2="258.83" stroke="#222" stroke-width="1"/>
<rect x="602.53" y="251.03" width="3.2" height="1.81" fill="#ee4527" stroke="#1a1a1a" stroke-width="0.85"/>
<line x1="609.38" y1="243.78" x2="609.38" y2="257.44" stroke="#222" stroke-width="1"/>
<rect x="607.78" y="245.17" width="3.2" height="6.27" fill="#07ad4b" stroke="#1a1a1a" stroke-width="0.85"/>
<line x1="614.62" y1="236.53" x2="614.62" y2="253.54" stroke="#222" stroke-width="1"/>
<rect x="613.02" y="239.32" width="3.2" height="7.94" fill="#07ad4b" stroke="#1a1a1a" stroke-width="0.85"/>
<line x1="619.87" y1="224.55" x2="619.87" y2="235.42" stroke="#222" stroke-width="1"/>
<rect x="618.27" y="231.52" width="3.2" height="2.79" fill="#ee4527" stroke="#1a1a1a" stroke-width="0.85"/>
<line x1="625.11" y1="230.54" x2="625.11" y2="245.45" stroke="#222" stroke-width="1"/>
<rect x="623.51" y="231.52" width="3.2" height="9.48" fill="#ee4527" stroke="#1a1a1a" stroke-width="0.85"/>
<line x1="630.36" y1="229.84" x2="630.36" y2="242.67" stroke="#222" stroke-width="1"/>
<rect x="628.76" y="235.42" width="3.2" height="3.48" fill="#07ad4b" stroke="#1a1a1a" stroke-width="0.85"/>
<line x1="635.6" y1="222.87" x2="635.6" y2="234.72" stroke="#222" stroke-width="1"/>
<rect x="634" y="223.57" width="3.2" height="5.99" fill="#07ad4b" stroke="#1a1a1a" stroke-width="0.85"/>
<line x1="640.85" y1="218" x2="640.85" y2="236.11" stroke="#222" stroke-width="1"/>
<rect x="639.25" y="224.97" width="3.2" height="8.36" fill="#07ad4b" stroke="#1a1a1a" stroke-width="0.85"/>
<line x1="646.09" y1="215.91" x2="646.09" y2="237.51" stroke="#222" stroke-width="1"/>
<rect x="644.49" y="216.18" width="3.2" height="13.38" fill="#ee4527" stroke="#1a1a1a" stroke-width="0.85"/>
<line x1="651.33" y1="228.45" x2="651.33" y2="254.93" stroke="#222" stroke-width="1"/>
<rect x="649.73" y="230.54" width="3.2" height="23.69" fill="#ee4527" stroke="#1a1a1a" stroke-width="0.85"/>
<line x1="656.58" y1="245.17" x2="656.58" y2="257.72" stroke="#222" stroke-width="1"/>
<rect x="654.98" y="247.68" width="3.2" height="5.85" fill="#07ad4b" stroke="#1a1a1a" stroke-width="0.85"/>
<line x1="661.82" y1="240.3" x2="661.82" y2="253.54" stroke="#222" stroke-width="1"/>
<rect x="660.22" y="240.71" width="3.2" height="9.34" fill="#07ad4b" stroke="#1a1a1a" stroke-width="0.85"/>
<line x1="667.07" y1="234.3" x2="667.07" y2="246.57" stroke="#222" stroke-width="1"/>
<rect x="665.47" y="237.93" width="3.2" height="2.37" fill="#07ad4b" stroke="#1a1a1a" stroke-width="0.85"/>
<line x1="672.31" y1="231.93" x2="672.31" y2="239.32" stroke="#222" stroke-width="1"/>
<rect x="670.71" y="232.63" width="3.2" height="2.79" fill="#07ad4b" stroke="#1a1a1a" stroke-width="0.85"/>
<line x1="677.56" y1="235.42" x2="677.56" y2="244.48" stroke="#222" stroke-width="1"/>
<rect x="675.96" y="236.11" width="3.2" height="4.88" fill="#ee4527" stroke="#1a1a1a" stroke-width="0.85"/>
<line x1="682.8" y1="238.48" x2="682.8" y2="245.45" stroke="#222" stroke-width="1"/>
<rect x="681.2" y="239.32" width="3.2" height="1" fill="#07ad4b" stroke="#1a1a1a" stroke-width="0.85"/>
<line x1="688.05" y1="231.93" x2="688.05" y2="241.69" stroke="#222" stroke-width="1"/>
<rect x="686.45" y="233.33" width="3.2" height="8.36" fill="#07ad4b" stroke="#1a1a1a" stroke-width="0.85"/>
<line x1="693.29" y1="225.38" x2="693.29" y2="234.72" stroke="#222" stroke-width="1"/>
<rect x="691.69" y="226.36" width="3.2" height="6.27" fill="#07ad4b" stroke="#1a1a1a" stroke-width="0.85"/>
<line x1="698.54" y1="207.26" x2="698.54" y2="229.15" stroke="#222" stroke-width="1"/>
<rect x="696.94" y="210.61" width="3.2" height="17.14" fill="#07ad4b" stroke="#1a1a1a" stroke-width="0.85"/>
<line x1="703.78" y1="200.57" x2="703.78" y2="211.03" stroke="#222" stroke-width="1"/>
<rect x="702.18" y="203.08" width="3.2" height="5.85" fill="#07ad4b" stroke="#1a1a1a" stroke-width="0.85"/>
<line x1="709.02" y1="194.3" x2="709.02" y2="207.54" stroke="#222" stroke-width="1"/>
<rect x="707.42" y="195.7" width="3.2" height="4.6" fill="#07ad4b" stroke="#1a1a1a" stroke-width="0.85"/>
<line x1="714.27" y1="167.31" x2="714.27" y2="193.49" stroke="#222" stroke-width="1"/>
<rect x="712.67" y="169.93" width="3.2" height="22.95" fill="#07ad4b" stroke="#1a1a1a" stroke-width="0.85"/>
<line x1="719.51" y1="131.67" x2="719.51" y2="164.18" stroke="#222" stroke-width="1"/>
<rect x="717.91" y="144.68" width="3.2" height="18.42" fill="#07ad4b" stroke="#1a1a1a" stroke-width="0.85"/>
<line x1="724.76" y1="154.43" x2="724.76" y2="189.11" stroke="#222" stroke-width="1"/>
<rect x="723.16" y="158.11" width="3.2" height="10.84" fill="#ee4527" stroke="#1a1a1a" stroke-width="0.85"/>
<line x1="730" y1="163.1" x2="730" y2="189.11" stroke="#222" stroke-width="1"/>
<rect x="728.4" y="175.02" width="3.2" height="5.42" fill="#07ad4b" stroke="#1a1a1a" stroke-width="0.85"/>
<line x1="735.25" y1="158.11" x2="735.25" y2="180.44" stroke="#222" stroke-width="1"/>
<rect x="733.65" y="174.59" width="3.2" height="1" fill="#07ad4b" stroke="#1a1a1a" stroke-width="0.85"/>
<line x1="740.49" y1="168.52" x2="740.49" y2="244.81" stroke="#222" stroke-width="1"/>
<rect x="738.89" y="172.42" width="3.2" height="70.87" fill="#ee4527" stroke="#1a1a1a" stroke-width="0.85"/>
<line x1="745.74" y1="203.19" x2="745.74" y2="234.62" stroke="#222" stroke-width="1"/>
<rect x="744.14" y="218.37" width="3.2" height="2.17" fill="#07ad4b" stroke="#1a1a1a" stroke-width="0.85"/>
<line x1="750.98" y1="168.08" x2="750.98" y2="227.04" stroke="#222" stroke-width="1"/>
<rect x="749.38" y="173.94" width="3.2" height="52.02" fill="#07ad4b" stroke="#1a1a1a" stroke-width="0.85"/>
<line x1="756.22" y1="165.27" x2="756.22" y2="183.69" stroke="#222" stroke-width="1"/>
<rect x="754.62" y="175.02" width="3.2" height="2.6" fill="#07ad4b" stroke="#1a1a1a" stroke-width="0.85"/>
<line x1="761.47" y1="146.41" x2="761.47" y2="180.44" stroke="#222" stroke-width="1"/>
<rect x="759.87" y="152.26" width="3.2" height="27.09" fill="#07ad4b" stroke="#1a1a1a" stroke-width="0.85"/>
<line x1="766.71" y1="128.42" x2="766.71" y2="175.02" stroke="#222" stroke-width="1"/>
<rect x="765.11" y="147.93" width="3.2" height="1.08" fill="#07ad4b" stroke="#1a1a1a" stroke-width="0.85"/>
<line x1="771.96" y1="119.75" x2="771.96" y2="160.93" stroke="#222" stroke-width="1"/>
<rect x="770.36" y="130.59" width="3.2" height="14.52" fill="#ee4527" stroke="#1a1a1a" stroke-width="0.85"/>
<line x1="777.2" y1="141.43" x2="777.2" y2="171.77" stroke="#222" stroke-width="1"/>
<rect x="775.6" y="142.08" width="3.2" height="17.34" fill="#ee4527" stroke="#1a1a1a" stroke-width="0.85"/>
<line x1="782.45" y1="150.1" x2="782.45" y2="183.69" stroke="#222" stroke-width="1"/>
<rect x="780.85" y="168.95" width="3.2" height="7.15" fill="#ee4527" stroke="#1a1a1a" stroke-width="0.85"/>
<line x1="787.69" y1="168.52" x2="787.69" y2="250.01" stroke="#222" stroke-width="1"/>
<rect x="786.09" y="184.12" width="3.2" height="37.49" fill="#ee4527" stroke="#1a1a1a" stroke-width="0.85"/>
<line x1="792.94" y1="215.79" x2="792.94" y2="299.84" stroke="#222" stroke-width="1"/>
<rect x="791.34" y="229.02" width="3.2" height="59.67" fill="#ee4527" stroke="#1a1a1a" stroke-width="0.85"/>
<line x1="798.18" y1="237.15" x2="798.18" y2="347.43" stroke="#222" stroke-width="1"/>
<rect x="796.58" y="246.44" width="3.2" height="69.65" fill="#ee4527" stroke="#1a1a1a" stroke-width="0.85"/>
<line x1="803.43" y1="255.72" x2="803.43" y2="334.66" stroke="#222" stroke-width="1"/>
<rect x="801.83" y="280.8" width="3.2" height="11.61" fill="#07ad4b" stroke="#1a1a1a" stroke-width="0.85"/>
<line x1="808.67" y1="261.53" x2="808.67" y2="326.54" stroke="#222" stroke-width="1"/>
<rect x="807.07" y="279.41" width="3.2" height="44.11" fill="#ee4527" stroke="#1a1a1a" stroke-width="0.85"/>
<line x1="813.91" y1="302.16" x2="813.91" y2="339.31" stroke="#222" stroke-width="1"/>
<rect x="812.31" y="314.93" width="3.2" height="7.66" fill="#ee4527" stroke="#1a1a1a" stroke-width="0.85"/>
<line x1="819.16" y1="287.07" x2="819.16" y2="341.63" stroke="#222" stroke-width="1"/>
<rect x="817.56" y="318.41" width="3.2" height="10.45" fill="#07ad4b" stroke="#1a1a1a" stroke-width="0.85"/>
<line x1="824.4" y1="240.63" x2="824.4" y2="317.25" stroke="#222" stroke-width="1"/>
<rect x="822.8" y="242.95" width="3.2" height="56.42" fill="#07ad4b" stroke="#1a1a1a" stroke-width="0.85"/>
<line x1="829.65" y1="126.1" x2="829.65" y2="248.8" stroke="#222" stroke-width="1"/>
<rect x="828.05" y="159.3" width="3.2" height="87.1" fill="#07ad4b" stroke="#1a1a1a" stroke-width="0.85"/>
<line x1="834.89" y1="125.09" x2="834.89" y2="199.56" stroke="#222" stroke-width="1"/>
<rect x="833.29" y="154.27" width="3.2" height="29.78" fill="#ee4527" stroke="#1a1a1a" stroke-width="0.85"/>
<line x1="840.14" y1="144.61" x2="840.14" y2="202.98" stroke="#222" stroke-width="1"/>
<rect x="838.54" y="159.91" width="3.2" height="16.1" fill="#07ad4b" stroke="#1a1a1a" stroke-width="0.85"/>
<line x1="845.38" y1="158.7" x2="845.38" y2="186.07" stroke="#222" stroke-width="1"/>
<rect x="843.78" y="164.74" width="3.2" height="1.21" fill="#07ad4b" stroke="#1a1a1a" stroke-width="0.85"/>
<line x1="850.63" y1="147.83" x2="850.63" y2="184.46" stroke="#222" stroke-width="1"/>
<rect x="849.03" y="157.29" width="3.2" height="17.51" fill="#ee4527" stroke="#1a1a1a" stroke-width="0.85"/>
<line x1="855.87" y1="173.39" x2="855.87" y2="220.28" stroke="#222" stroke-width="1"/>
<rect x="854.27" y="174.8" width="3.2" height="41.86" fill="#ee4527" stroke="#1a1a1a" stroke-width="0.85"/>
<line x1="861.11" y1="203.58" x2="861.11" y2="234.77" stroke="#222" stroke-width="1"/>
<rect x="859.51" y="221.09" width="3.2" height="2.62" fill="#07ad4b" stroke="#1a1a1a" stroke-width="0.85"/>
<line x1="866.36" y1="174" x2="866.36" y2="216.66" stroke="#222" stroke-width="1"/>
<rect x="864.76" y="180.03" width="3.2" height="31.6" fill="#07ad4b" stroke="#1a1a1a" stroke-width="0.85"/>
<line x1="871.6" y1="167.36" x2="871.6" y2="191.51" stroke="#222" stroke-width="1"/>
<rect x="870" y="172.79" width="3.2" height="9.66" fill="#07ad4b" stroke="#1a1a1a" stroke-width="0.85"/>
<line x1="876.85" y1="110.2" x2="876.85" y2="170.8" stroke="#222" stroke-width="1"/>
<rect x="875.25" y="129.2" width="3.2" height="41.6" fill="#07ad4b" stroke="#1a1a1a" stroke-width="0.85"/>
<line x1="882.09" y1="85.92" x2="882.09" y2="148.12" stroke="#222" stroke-width="1"/>
<rect x="880.49" y="117.78" width="3.2" height="20.16" fill="#ee4527" stroke="#1a1a1a" stroke-width="0.85"/>
<line x1="887.34" y1="134.03" x2="887.34" y2="149.2" stroke="#222" stroke-width="1"/>
<rect x="885.74" y="138.37" width="3.2" height="4.33" fill="#07ad4b" stroke="#1a1a1a" stroke-width="0.85"/>
<line x1="892.58" y1="75.51" x2="892.58" y2="143.78" stroke="#222" stroke-width="1"/>
<rect x="890.98" y="76.16" width="3.2" height="65.45" fill="#07ad4b" stroke="#1a1a1a" stroke-width="0.85"/>
<line x1="897.83" y1="58.61" x2="897.83" y2="101.52" stroke="#222" stroke-width="1"/>
<rect x="896.23" y="68.58" width="3.2" height="17.34" fill="#07ad4b" stroke="#1a1a1a" stroke-width="0.85"/>
<line x1="903.07" y1="43.44" x2="903.07" y2="80.93" stroke="#222" stroke-width="1"/>
<rect x="901.47" y="61.43" width="3.2" height="7.15" fill="#07ad4b" stroke="#1a1a1a" stroke-width="0.85"/>
<line x1="908.32" y1="70.75" x2="908.32" y2="95.02" stroke="#222" stroke-width="1"/>
<rect x="906.72" y="71.18" width="3.2" height="16.25" fill="#ee4527" stroke="#1a1a1a" stroke-width="0.85"/>
<line x1="913.56" y1="62.94" x2="913.56" y2="102.61" stroke="#222" stroke-width="1"/>
<rect x="911.96" y="84.62" width="3.2" height="10.4" fill="#ee4527" stroke="#1a1a1a" stroke-width="0.85"/>
<line x1="918.8" y1="88.95" x2="918.8" y2="131.86" stroke="#222" stroke-width="1"/>
<rect x="917.2" y="88.95" width="3.2" height="36.41" fill="#ee4527" stroke="#1a1a1a" stroke-width="0.85"/>
<line x1="924.05" y1="107.59" x2="924.05" y2="136.63" stroke="#222" stroke-width="1"/>
<rect x="922.45" y="113.44" width="3.2" height="16.69" fill="#07ad4b" stroke="#1a1a1a" stroke-width="0.85"/>
<line x1="929.29" y1="109.76" x2="929.29" y2="153.97" stroke="#222" stroke-width="1"/>
<rect x="927.69" y="111.92" width="3.2" height="22.54" fill="#ee4527" stroke="#1a1a1a" stroke-width="0.85"/>
<line x1="934.54" y1="86.78" x2="934.54" y2="127.53" stroke="#222" stroke-width="1"/>
<rect x="932.94" y="88.95" width="3.2" height="32.08" fill="#07ad4b" stroke="#1a1a1a" stroke-width="0.85"/>
<line x1="939.78" y1="70.1" x2="939.78" y2="95.02" stroke="#222" stroke-width="1"/>
<rect x="938.18" y="82.67" width="3.2" height="8.45" fill="#07ad4b" stroke="#1a1a1a" stroke-width="0.85"/>
<line x1="945.03" y1="74.43" x2="945.03" y2="99.35" stroke="#222" stroke-width="1"/>
<rect x="943.43" y="75.95" width="3.2" height="15.82" fill="#ee4527" stroke="#1a1a1a" stroke-width="0.85"/>
<line x1="950.27" y1="80.93" x2="950.27" y2="105.86" stroke="#222" stroke-width="1"/>
<rect x="948.67" y="83.1" width="3.2" height="18.86" fill="#ee4527" stroke="#1a1a1a" stroke-width="0.85"/>
<line x1="955.52" y1="96.1" x2="955.52" y2="119.29" stroke="#222" stroke-width="1"/>
<rect x="953.92" y="102.61" width="3.2" height="1.08" fill="#ee4527" stroke="#1a1a1a" stroke-width="0.85"/>
<line x1="960.76" y1="94.05" x2="960.76" y2="115.34" stroke="#222" stroke-width="1"/>
<rect x="959.16" y="101.38" width="3.2" height="10.05" fill="#ee4527" stroke="#1a1a1a" stroke-width="0.85"/>
<line x1="966" y1="91.5" x2="966" y2="134.58" stroke="#222" stroke-width="1"/>
<rect x="964.4" y="97.46" width="3.2" height="31.5" fill="#ee4527" stroke="#1a1a1a" stroke-width="0.85"/>
<line x1="971.25" y1="111.08" x2="971.25" y2="144.28" stroke="#222" stroke-width="1"/>
<rect x="969.65" y="124.36" width="3.2" height="5.11" fill="#07ad4b" stroke="#1a1a1a" stroke-width="0.85"/>
<line x1="976.49" y1="100.86" x2="976.49" y2="123.85" stroke="#222" stroke-width="1"/>
<rect x="974.89" y="112.44" width="3.2" height="1.36" fill="#07ad4b" stroke="#1a1a1a" stroke-width="0.85"/>
<line x1="981.74" y1="108.19" x2="981.74" y2="127.77" stroke="#222" stroke-width="1"/>
<rect x="980.14" y="113.81" width="3.2" height="1" fill="#07ad4b" stroke="#1a1a1a" stroke-width="0.85"/>
<line x1="986.98" y1="109.38" x2="986.98" y2="137.47" stroke="#222" stroke-width="1"/>
<rect x="985.38" y="111.08" width="3.2" height="20.09" fill="#ee4527" stroke="#1a1a1a" stroke-width="0.85"/>
<line x1="877.4" y1="180.4" x2="1039" y2="120" stroke="#000" stroke-width="3" stroke-linecap="round"/>
<line x1="903.4" y1="43.6" x2="1023.7" y2="122.3" stroke="#000" stroke-width="3" stroke-linecap="round"/>
<path d="M355.8 356.3 L357.7 357.6 L360.2 355.5" fill="none" stroke="#f2593c" stroke-width="1.1" stroke-linecap="round" stroke-linejoin="round"/>
<path d="M900.9 40 Q903 38 905.8 40.6" fill="none" stroke="#19b457" stroke-width="1.1" stroke-linecap="round"/>
</g>
<g clip-path="url(#cv)">
<rect x="9.81" y="570.32" width="3.4" height="40.48" fill="#f04a2a"/>
<rect x="15.05" y="568.01" width="3.4" height="42.79" fill="#0cb04a"/>
<rect x="20.29" y="535.61" width="3.4" height="75.19" fill="#f04a2a"/>
<rect x="25.54" y="552.52" width="3.4" height="58.28" fill="#0cb04a"/>
<rect x="30.78" y="558.75" width="3.4" height="52.05" fill="#0cb04a"/>
<rect x="36.03" y="572.1" width="3.4" height="38.7" fill="#f04a2a"/>
<rect x="41.27" y="574.77" width="3.4" height="36.03" fill="#f04a2a"/>
<rect x="46.52" y="581.36" width="3.4" height="29.44" fill="#0cb04a"/>
<rect x="51.76" y="581" width="3.4" height="29.8" fill="#1f45c8"/>
<rect x="57.01" y="576.2" width="3.4" height="34.6" fill="#f04a2a"/>
<rect x="62.25" y="553.41" width="3.4" height="57.39" fill="#0cb04a"/>
<rect x="67.5" y="560.89" width="3.4" height="49.91" fill="#f04a2a"/>
<rect x="72.74" y="568.01" width="3.4" height="42.79" fill="#0cb04a"/>
<rect x="77.98" y="567.3" width="3.4" height="43.5" fill="#f04a2a"/>
<rect x="83.23" y="555.72" width="3.4" height="55.08" fill="#f04a2a"/>
<rect x="88.47" y="569.97" width="3.4" height="40.83" fill="#f04a2a"/>
<rect x="93.72" y="544.86" width="3.4" height="65.94" fill="#0cb04a"/>
<rect x="98.96" y="560.89" width="3.4" height="49.91" fill="#0cb04a"/>
<rect x="104.21" y="538.28" width="3.4" height="72.52" fill="#f04a2a"/>
<rect x="109.45" y="544.86" width="3.4" height="65.94" fill="#f04a2a"/>
<rect x="114.7" y="572.1" width="3.4" height="38.7" fill="#f04a2a"/>
<rect x="119.94" y="563.2" width="3.4" height="47.6" fill="#f04a2a"/>
<rect x="125.18" y="572.99" width="3.4" height="37.81" fill="#0cb04a"/>
<rect x="130.43" y="552.88" width="3.4" height="57.92" fill="#0cb04a"/>
<rect x="135.67" y="567.3" width="3.4" height="43.5" fill="#f04a2a"/>
<rect x="140.92" y="568.54" width="3.4" height="42.26" fill="#0cb04a"/>
<rect x="146.16" y="569.97" width="3.4" height="40.83" fill="#0cb04a"/>
<rect x="151.41" y="566.76" width="3.4" height="44.04" fill="#0cb04a"/>
<rect x="156.65" y="576.2" width="3.4" height="34.6" fill="#f04a2a"/>
<rect x="161.9" y="577.09" width="3.4" height="33.71" fill="#0cb04a"/>
<rect x="167.14" y="566.76" width="3.4" height="44.04" fill="#0cb04a"/>
<rect x="172.39" y="560" width="3.4" height="50.8" fill="#0cb04a"/>
<rect x="177.63" y="551.63" width="3.4" height="59.17" fill="#f04a2a"/>
<rect x="182.87" y="563.56" width="3.4" height="47.24" fill="#0cb04a"/>
<rect x="188.12" y="556.08" width="3.4" height="54.72" fill="#f04a2a"/>
<rect x="193.36" y="557.5" width="3.4" height="53.3" fill="#f04a2a"/>
<rect x="198.61" y="556.97" width="3.4" height="53.83" fill="#0cb04a"/>
<rect x="203.85" y="563.56" width="3.4" height="47.24" fill="#0cb04a"/>
<rect x="209.1" y="562.31" width="3.4" height="48.49" fill="#0cb04a"/>
<rect x="214.34" y="569.08" width="3.4" height="41.72" fill="#f04a2a"/>
<rect x="219.59" y="580.11" width="3.4" height="30.69" fill="#f04a2a"/>
<rect x="224.83" y="566.41" width="3.4" height="44.39" fill="#f04a2a"/>
<rect x="230.07" y="576.55" width="3.4" height="34.25" fill="#0cb04a"/>
<rect x="235.32" y="561.42" width="3.4" height="49.38" fill="#f04a2a"/>
<rect x="240.56" y="552.16" width="3.4" height="58.64" fill="#f04a2a"/>
<rect x="245.81" y="583.32" width="3.4" height="27.48" fill="#0cb04a"/>
<rect x="251.05" y="573.88" width="3.4" height="36.92" fill="#f04a2a"/>
<rect x="256.3" y="566.23" width="3.4" height="44.57" fill="#0cb04a"/>
<rect x="261.54" y="574.42" width="3.4" height="36.38" fill="#0cb04a"/>
<rect x="266.79" y="582.43" width="3.4" height="28.37" fill="#f04a2a"/>
<rect x="272.03" y="576.2" width="3.4" height="34.6" fill="#f04a2a"/>
<rect x="277.28" y="585.99" width="3.4" height="24.81" fill="#f04a2a"/>
<rect x="282.52" y="582.25" width="3.4" height="28.55" fill="#0cb04a"/>
<rect x="287.76" y="574.77" width="3.4" height="36.03" fill="#0cb04a"/>
<rect x="293.01" y="567.12" width="3.4" height="43.68" fill="#0cb04a"/>
<rect x="298.25" y="572.99" width="3.4" height="37.81" fill="#f04a2a"/>
<rect x="303.5" y="573.88" width="3.4" height="36.92" fill="#f04a2a"/>
<rect x="308.74" y="566.23" width="3.4" height="44.57" fill="#0cb04a"/>
<rect x="313.99" y="562.84" width="3.4" height="47.96" fill="#0cb04a"/>
<rect x="319.23" y="563.74" width="3.4" height="47.06" fill="#f04a2a"/>
<rect x="324.48" y="577.09" width="3.4" height="33.71" fill="#f04a2a"/>
<rect x="329.72" y="526.17" width="3.4" height="84.63" fill="#f04a2a"/>
<rect x="334.96" y="570.86" width="3.4" height="39.94" fill="#0cb04a"/>
<rect x="340.21" y="516.02" width="3.4" height="94.78" fill="#f04a2a"/>
<rect x="345.45" y="551.09" width="3.4" height="59.71" fill="#f04a2a"/>
<rect x="350.7" y="569.08" width="3.4" height="41.72" fill="#f04a2a"/>
<rect x="355.94" y="550.2" width="3.4" height="60.6" fill="#f04a2a"/>
<rect x="361.19" y="564.63" width="3.4" height="46.17" fill="#0cb04a"/>
<rect x="366.43" y="568.19" width="3.4" height="42.61" fill="#0cb04a"/>
<rect x="371.68" y="577.8" width="3.4" height="33" fill="#f04a2a"/>
<rect x="376.92" y="567.65" width="3.4" height="43.15" fill="#0cb04a"/>
<rect x="382.17" y="570.86" width="3.4" height="39.94" fill="#0cb04a"/>
<rect x="387.41" y="560.17" width="3.4" height="50.63" fill="#f04a2a"/>
<rect x="392.65" y="556.61" width="3.4" height="54.19" fill="#f04a2a"/>
<rect x="397.9" y="561.95" width="3.4" height="48.85" fill="#1f45c8"/>
<rect x="403.14" y="560.89" width="3.4" height="49.91" fill="#f04a2a"/>
<rect x="408.39" y="532.4" width="3.4" height="78.4" fill="#0cb04a"/>
<rect x="413.63" y="571.21" width="3.4" height="39.59" fill="#f04a2a"/>
<rect x="418.88" y="577.98" width="3.4" height="32.82" fill="#0cb04a"/>
<rect x="424.12" y="571.75" width="3.4" height="39.05" fill="#f04a2a"/>
<rect x="429.37" y="561.95" width="3.4" height="48.85" fill="#0cb04a"/>
<rect x="434.61" y="571.75" width="3.4" height="39.05" fill="#f04a2a"/>
<rect x="439.85" y="582.25" width="3.4" height="28.55" fill="#0cb04a"/>
<rect x="445.1" y="571.75" width="3.4" height="39.05" fill="#f04a2a"/>
<rect x="450.34" y="588.48" width="3.4" height="22.32" fill="#f04a2a"/>
<rect x="455.59" y="582.78" width="3.4" height="28.02" fill="#0cb04a"/>
<rect x="460.83" y="578.33" width="3.4" height="32.47" fill="#0cb04a"/>
<rect x="466.08" y="562.31" width="3.4" height="48.49" fill="#f04a2a"/>
<rect x="471.32" y="568.19" width="3.4" height="42.61" fill="#0cb04a"/>
<rect x="476.57" y="591.15" width="3.4" height="19.65" fill="#f04a2a"/>
<rect x="481.81" y="589.37" width="3.4" height="21.43" fill="#0cb04a"/>
<rect x="487.06" y="586.88" width="3.4" height="23.92" fill="#f04a2a"/>
<rect x="492.3" y="586.7" width="3.4" height="24.1" fill="#0cb04a"/>
<rect x="497.54" y="594.71" width="3.4" height="16.09" fill="#f04a2a"/>
<rect x="502.79" y="591.33" width="3.4" height="19.47" fill="#0cb04a"/>
<rect x="508.03" y="589.02" width="3.4" height="21.78" fill="#0cb04a"/>
<rect x="513.28" y="585.1" width="3.4" height="25.7" fill="#0cb04a"/>
<rect x="518.52" y="585.99" width="3.4" height="24.81" fill="#0cb04a"/>
<rect x="523.77" y="589.02" width="3.4" height="21.78" fill="#0cb04a"/>
<rect x="529.01" y="583.14" width="3.4" height="27.66" fill="#0cb04a"/>
<rect x="534.26" y="577.09" width="3.4" height="33.71" fill="#0cb04a"/>
<rect x="539.5" y="556.97" width="3.4" height="53.83" fill="#0cb04a"/>
<rect x="544.74" y="539.52" width="3.4" height="71.28" fill="#0cb04a"/>
<rect x="549.99" y="553.05" width="3.4" height="57.75" fill="#0cb04a"/>
<rect x="555.23" y="508.9" width="3.4" height="101.9" fill="#f04a2a"/>
<rect x="560.48" y="562.84" width="3.4" height="47.96" fill="#f04a2a"/>
<rect x="565.72" y="564.45" width="3.4" height="46.35" fill="#0cb04a"/>
<rect x="570.97" y="564.45" width="3.4" height="46.35" fill="#f04a2a"/>
<rect x="576.21" y="565.52" width="3.4" height="45.28" fill="#f04a2a"/>
<rect x="581.46" y="569.08" width="3.4" height="41.72" fill="#0cb04a"/>
<rect x="586.7" y="576.2" width="3.4" height="34.6" fill="#f04a2a"/>
<rect x="591.95" y="575.13" width="3.4" height="35.67" fill="#0cb04a"/>
<rect x="597.19" y="548.07" width="3.4" height="62.73" fill="#f04a2a"/>
<rect x="602.43" y="568.19" width="3.4" height="42.61" fill="#f04a2a"/>
<rect x="607.68" y="560.17" width="3.4" height="50.63" fill="#0cb04a"/>
<rect x="612.92" y="545.93" width="3.4" height="64.87" fill="#0cb04a"/>
<rect x="618.17" y="547.18" width="3.4" height="63.62" fill="#0cb04a"/>
<rect x="623.41" y="541.3" width="3.4" height="69.5" fill="#f04a2a"/>
<rect x="628.66" y="550.2" width="3.4" height="60.6" fill="#0cb04a"/>
<rect x="633.9" y="556.97" width="3.4" height="53.83" fill="#0cb04a"/>
<rect x="639.15" y="569.43" width="3.4" height="41.37" fill="#f04a2a"/>
<rect x="644.39" y="572.99" width="3.4" height="37.81" fill="#f04a2a"/>
<rect x="649.63" y="569.43" width="3.4" height="41.37" fill="#f04a2a"/>
<rect x="654.88" y="573.53" width="3.4" height="37.27" fill="#0cb04a"/>
<rect x="660.12" y="583.67" width="3.4" height="27.13" fill="#0cb04a"/>
<rect x="665.37" y="576.91" width="3.4" height="33.89" fill="#0cb04a"/>
<rect x="670.61" y="587.77" width="3.4" height="23.03" fill="#0cb04a"/>
<rect x="675.86" y="582.25" width="3.4" height="28.55" fill="#f04a2a"/>
<rect x="681.1" y="586.35" width="3.4" height="24.45" fill="#0cb04a"/>
<rect x="686.35" y="578.33" width="3.4" height="32.47" fill="#0cb04a"/>
<rect x="691.59" y="582.25" width="3.4" height="28.55" fill="#0cb04a"/>
<rect x="696.84" y="560.53" width="3.4" height="50.27" fill="#0cb04a"/>
<rect x="702.08" y="574.24" width="3.4" height="36.56" fill="#0cb04a"/>
<rect x="707.32" y="562.31" width="3.4" height="48.49" fill="#0cb04a"/>
<rect x="712.57" y="551.27" width="3.4" height="59.53" fill="#0cb04a"/>
<rect x="717.81" y="525.46" width="3.4" height="85.34" fill="#0cb04a"/>
<rect x="723.06" y="529.38" width="3.4" height="81.42" fill="#f04a2a"/>
<rect x="728.3" y="546.29" width="3.4" height="64.51" fill="#f04a2a"/>
<rect x="733.55" y="540.95" width="3.4" height="69.85" fill="#f04a2a"/>
<rect x="738.79" y="515.49" width="3.4" height="95.31" fill="#f04a2a"/>
<rect x="744.04" y="556.61" width="3.4" height="54.19" fill="#0cb04a"/>
<rect x="749.28" y="552.52" width="3.4" height="58.28" fill="#0cb04a"/>
<rect x="754.52" y="571.21" width="3.4" height="39.59" fill="#f04a2a"/>
<rect x="759.77" y="565.52" width="3.4" height="45.28" fill="#0cb04a"/>
<rect x="765.01" y="524.92" width="3.4" height="85.88" fill="#0cb04a"/>
<rect x="770.26" y="545.4" width="3.4" height="65.4" fill="#0cb04a"/>
<rect x="775.5" y="559.64" width="3.4" height="51.16" fill="#f04a2a"/>
<rect x="780.75" y="552.16" width="3.4" height="58.64" fill="#f04a2a"/>
<rect x="785.99" y="527.95" width="3.4" height="82.85" fill="#f04a2a"/>
<rect x="791.24" y="538.28" width="3.4" height="72.52" fill="#f04a2a"/>
<rect x="796.48" y="535.96" width="3.4" height="74.84" fill="#f04a2a"/>
<rect x="801.73" y="551.27" width="3.4" height="59.53" fill="#0cb04a"/>
<rect x="806.97" y="551.27" width="3.4" height="59.53" fill="#f04a2a"/>
<rect x="812.21" y="565.34" width="3.4" height="45.46" fill="#0cb04a"/>
<rect x="817.46" y="572.99" width="3.4" height="37.81" fill="#0cb04a"/>
<rect x="822.7" y="556.08" width="3.4" height="54.72" fill="#0cb04a"/>
<rect x="827.95" y="539.17" width="3.4" height="71.63" fill="#0cb04a"/>
<rect x="833.19" y="567.3" width="3.4" height="43.5" fill="#f04a2a"/>
<rect x="838.44" y="565.52" width="3.4" height="45.28" fill="#0cb04a"/>
<rect x="843.68" y="577.98" width="3.4" height="32.82" fill="#f04a2a"/>
<rect x="848.93" y="589.37" width="3.4" height="21.43" fill="#f04a2a"/>
<rect x="854.17" y="589.02" width="3.4" height="21.78" fill="#f04a2a"/>
<rect x="859.41" y="590.8" width="3.4" height="20" fill="#f04a2a"/>
<rect x="864.66" y="590.26" width="3.4" height="20.54" fill="#0cb04a"/>
<rect x="869.9" y="594" width="3.4" height="16.8" fill="#0cb04a"/>
<rect x="875.15" y="586.88" width="3.4" height="23.92" fill="#0cb04a"/>
<rect x="880.39" y="585.45" width="3.4" height="25.35" fill="#f04a2a"/>
<rect x="885.64" y="595.6" width="3.4" height="15.2" fill="#0cb04a"/>
<rect x="890.88" y="583.14" width="3.4" height="27.66" fill="#0cb04a"/>
<rect x="896.13" y="590.44" width="3.4" height="20.36" fill="#0cb04a"/>
<rect x="901.37" y="581" width="3.4" height="29.8" fill="#0cb04a"/>
<rect x="906.62" y="587.77" width="3.4" height="23.03" fill="#f04a2a"/>
<rect x="911.86" y="585.99" width="3.4" height="24.81" fill="#f04a2a"/>
<rect x="917.1" y="582.43" width="3.4" height="28.37" fill="#f04a2a"/>
<rect x="922.35" y="587.77" width="3.4" height="23.03" fill="#0cb04a"/>
<rect x="927.59" y="580.11" width="3.4" height="30.69" fill="#f04a2a"/>
<rect x="932.84" y="586.88" width="3.4" height="23.92" fill="#0cb04a"/>
<rect x="938.08" y="586.35" width="3.4" height="24.45" fill="#0cb04a"/>
<rect x="943.33" y="589.02" width="3.4" height="21.78" fill="#f04a2a"/>
<rect x="948.57" y="592.58" width="3.4" height="18.22" fill="#f04a2a"/>
<rect x="953.82" y="589.55" width="3.4" height="21.25" fill="#f04a2a"/>
<rect x="959.06" y="591.69" width="3.4" height="19.11" fill="#f04a2a"/>
<rect x="964.3" y="581.54" width="3.4" height="29.26" fill="#f04a2a"/>
<rect x="969.55" y="589.91" width="3.4" height="20.89" fill="#0cb04a"/>
<rect x="974.79" y="591.69" width="3.4" height="19.11" fill="#0cb04a"/>
<rect x="980.04" y="587.59" width="3.4" height="23.21" fill="#f04a2a"/>
<path d="M9.98 541.84 C12 541.93 18.47 542.58 22.09 542.37 C25.71 542.16 28.32 540.59 31.7 540.59 C35.09 540.59 37.94 542.16 42.39 542.37 C46.84 542.58 54.85 542.52 58.41 541.84 C61.97 541.15 60.93 539.02 63.75 538.28 C66.57 537.53 72.06 537.3 75.32 537.39 C78.59 537.48 80.81 538.28 83.33 538.81 C85.86 539.34 87.78 540.92 90.45 540.59 C93.13 540.26 96.98 537.03 99.36 536.85 C101.73 536.67 102.62 538.99 104.7 539.52 C106.77 540.06 110.1 540.06 111.82 540.06 C113.54 540.06 113.04 539.57 115 539.52 C116.96 539.48 120.59 539.91 123.56 539.79 C126.52 539.67 128.89 539.15 132.8 538.81 C136.72 538.47 142 537.98 147.05 537.74 C152.09 537.51 158.62 537.83 163.07 537.39 C167.52 536.94 171.08 535.07 173.75 535.07 C176.42 535.07 176.42 536.85 179.09 537.39 C181.76 537.92 186.51 537.68 189.77 538.28 C193.04 538.87 195.71 540.8 198.67 540.95 C201.64 541.1 204.91 539.46 207.58 539.17 C210.25 538.87 212.32 539.02 214.7 539.17 C217.07 539.32 220.1 539.91 221.82 540.06 C223.54 540.21 223.04 540.18 225 540.06 C226.96 539.94 230.59 539.14 233.56 539.34 C236.52 539.55 239.48 541.04 242.8 541.3 C246.12 541.57 249.92 541.3 253.48 540.95 C257.05 540.59 260.01 539.52 264.17 539.17 C268.32 538.81 274.85 539.17 278.41 538.81 C281.97 538.45 282.86 537.71 285.53 537.03 C288.2 536.35 291.46 534.75 294.43 534.72 C297.4 534.69 300.96 536.5 303.33 536.85 C305.71 537.21 306.6 537.59 308.67 536.85 C310.75 536.11 313.13 533.2 315.8 532.4 C318.47 531.6 321.61 532.25 324.7 532.05 C327.78 531.84 331.16 531.63 334.3 531.16 C337.44 530.68 340.47 529.49 343.56 529.2 C346.64 528.9 349.48 529.58 352.8 529.38 C356.12 529.17 360.22 528.04 363.48 527.95 C366.75 527.86 368.83 528.9 372.39 528.84 C375.95 528.78 381.58 527.59 384.85 527.59 C388.11 527.59 389.6 528.25 391.97 528.84 C394.34 529.43 396.87 530.18 399.09 531.16 C401.32 532.13 403.25 534.33 405.32 534.72 C407.4 535.1 408.44 533.71 411.55 533.47 C414.67 533.23 420.75 533.89 424.02 533.29 C427.28 532.7 428.17 530.41 431.14 529.91 C434.1 529.4 439.51 530.06 441.82 530.27 C444.13 530.47 442.75 530.89 445 531.16 C447.25 531.42 452.37 532.08 455.34 531.87 C458.3 531.66 459.78 530.41 462.8 529.91 C465.83 529.4 469.92 529.14 473.48 528.84 C477.05 528.54 480.61 528.43 484.17 528.13 C487.73 527.83 491.88 527.24 494.85 527.06 C497.82 526.88 499 527.57 501.97 527.06 C504.94 526.56 509.09 524.89 512.65 524.03 C516.21 523.17 520.37 522.49 523.33 521.9 C526.3 521.3 527.49 521.01 530.45 520.47 C533.42 519.94 537.58 518.69 541.14 518.69 C544.7 518.69 549.51 520.18 551.82 520.47 C554.13 520.77 552.75 520.52 555 520.47 C557.25 520.43 562.37 520.5 565.34 520.21 C568.3 519.91 570.08 519 572.8 518.69 C575.53 518.38 578.74 518.25 581.7 518.34 C584.67 518.43 587.05 519.02 590.61 519.23 C594.17 519.44 600.1 519.73 603.07 519.58 C606.04 519.44 606.63 518.34 608.41 518.34 C610.19 518.34 611.97 518.78 613.75 519.58 C615.53 520.38 617.01 521.66 619.09 523.14 C621.17 524.63 623.54 527 626.21 528.48 C628.88 529.97 632.15 531.3 635.11 532.05 C638.08 532.79 641.05 532.34 644.02 532.94 C646.98 533.53 649.95 535.16 652.92 535.61 C655.88 536.05 659.8 535.61 661.82 535.61 C663.83 535.61 663.04 535.72 665 535.61 C666.96 535.49 670.74 534.95 673.56 534.89 C676.38 534.83 678.89 535.72 681.91 535.25 C684.94 534.78 688.59 533.26 691.7 532.05 C694.82 530.83 697.34 528.84 700.61 527.95 C703.87 527.06 708.32 526.91 711.29 526.7 C714.26 526.5 716.04 526.7 718.41 526.7 C720.78 526.7 722.86 526.56 725.53 526.7 C728.2 526.85 731.76 526.85 734.43 527.59 C737.1 528.34 739.18 530.47 741.55 531.16 C743.93 531.84 746.3 531.45 748.67 531.69 C751.05 531.93 753.72 532.58 755.8 532.58 C757.87 532.58 759.06 531.33 761.14 531.69 C763.21 532.05 765.92 533.8 768.26 534.72 C770.6 535.64 772.62 536.42 775.19 537.21 C777.76 537.99 781.61 538.66 783.65 539.43 C785.7 540.21 785.34 540.99 787.46 541.84 C789.58 542.68 793.4 543.91 796.36 544.51 C799.33 545.1 802.3 544.95 805.27 545.4 C808.23 545.84 811.2 546.97 814.17 547.18 C817.13 547.39 820.4 546.56 823.07 546.64 C825.74 546.73 827.52 547.12 830.19 547.71 C832.86 548.31 835.83 549.55 839.09 550.2 C842.36 550.86 846.81 551.04 849.77 551.63 C852.74 552.22 853.33 553.17 856.89 553.77 C860.45 554.36 866.98 554.89 871.14 555.19 C875.29 555.49 879.51 555.4 881.82 555.55 C884.13 555.69 883.04 556.29 885 556.08 C886.96 555.87 890.59 554.69 893.56 554.3 C896.52 553.91 899.78 553.77 902.8 553.77 C905.83 553.77 908.14 554.36 911.7 554.3 C915.27 554.24 919.72 553.65 924.17 553.41 C928.62 553.17 933.66 552.96 938.41 552.88 C943.16 552.79 949.09 552.88 952.65 552.88 C956.21 552.88 957.7 552.64 959.77 552.88 C961.85 553.11 962.3 554 965.11 554.3 C967.93 554.6 974.76 554.6 976.69 554.66" fill="none" stroke="#b631cc" stroke-width="2" stroke-linejoin="round"/>
</g>
<text x="1146.5" y="38.3" font-size="12" fill="#5f5f5f" text-anchor="end" textLength="38.4" lengthAdjust="spacingAndGlyphs">1,800.0</text>
<text x="1146.5" y="83.3" font-size="12" fill="#5f5f5f" text-anchor="end" textLength="38.4" lengthAdjust="spacingAndGlyphs">1,750.0</text>
<text x="1146.5" y="128.3" font-size="12" fill="#5f5f5f" text-anchor="end" textLength="38.4" lengthAdjust="spacingAndGlyphs">1,700.0</text>
<text x="1146.5" y="173.3" font-size="12" fill="#5f5f5f" text-anchor="end" textLength="38.4" lengthAdjust="spacingAndGlyphs">1,650.0</text>
<text x="1146.5" y="218.3" font-size="12" fill="#5f5f5f" text-anchor="end" textLength="38.4" lengthAdjust="spacingAndGlyphs">1,600.0</text>
<text x="1146.5" y="263.3" font-size="12" fill="#5f5f5f" text-anchor="end" textLength="38.4" lengthAdjust="spacingAndGlyphs">1,550.0</text>
<text x="1146.5" y="308.3" font-size="12" fill="#5f5f5f" text-anchor="end" textLength="38.4" lengthAdjust="spacingAndGlyphs">1,500.0</text>
<text x="1146.5" y="353.3" font-size="12" fill="#5f5f5f" text-anchor="end" textLength="38.4" lengthAdjust="spacingAndGlyphs">1,450.0</text>
<text x="1146.5" y="398.3" font-size="12" fill="#5f5f5f" text-anchor="end" textLength="38.4" lengthAdjust="spacingAndGlyphs">1,400.0</text>
<text x="1146.5" y="443.3" font-size="12" fill="#5f5f5f" text-anchor="end" textLength="38.4" lengthAdjust="spacingAndGlyphs">1,350.0</text>
<text x="1146.5" y="488.3" font-size="12" fill="#5f5f5f" text-anchor="end" textLength="38.4" lengthAdjust="spacingAndGlyphs">1,300.0</text>
<text x="16.75" y="640" font-size="12" fill="#5f5f5f" text-anchor="middle" clip-path="url(#cx)">Aug 12</text>
<text x="69.2" y="640" font-size="12" fill="#5f5f5f" text-anchor="middle">Aug 26</text>
<text x="116.4" y="640" font-size="12" fill="#5f5f5f" text-anchor="middle">Sep 9</text>
<text x="168.84" y="640" font-size="12" fill="#5f5f5f" text-anchor="middle">Sep 23</text>
<text x="221.29" y="640" font-size="12" fill="#5f5f5f" text-anchor="middle">Oct 7</text>
<text x="273.73" y="640" font-size="12" fill="#5f5f5f" text-anchor="middle">Oct 21</text>
<text x="326.18" y="640" font-size="12" fill="#5f5f5f" text-anchor="middle">Nov 4</text>
<text x="378.62" y="640" font-size="12" fill="#5f5f5f" text-anchor="middle">Nov 18</text>
<text x="425.82" y="640" font-size="12" fill="#5f5f5f" text-anchor="middle">Dec 2</text>
<text x="478.27" y="640" font-size="12" fill="#5f5f5f" text-anchor="middle">Dec 16</text>
<text x="525.47" y="640" font-size="12" fill="#5f5f5f" text-anchor="middle">Dec 30</text>
<text x="572.67" y="640" font-size="12" fill="#5f5f5f" text-anchor="middle">Jan 13</text>
<text x="619.87" y="640" font-size="12" fill="#5f5f5f" text-anchor="middle">Jan 27</text>
<text x="672.31" y="640" font-size="12" fill="#5f5f5f" text-anchor="middle">Feb 10</text>
<text x="719.51" y="640" font-size="12" fill="#5f5f5f" text-anchor="middle">Feb 24</text>
<text x="771.96" y="640" font-size="12" fill="#5f5f5f" text-anchor="middle">Mar 9</text>
<text x="824.4" y="640" font-size="12" fill="#5f5f5f" text-anchor="middle">Mar 23</text>
<text x="876.85" y="640" font-size="12" fill="#5f5f5f" text-anchor="middle">Apr 6</text>
<text x="924.05" y="640" font-size="12" fill="#5f5f5f" text-anchor="middle">Apr 20</text>
<text x="976.49" y="640" font-size="12" fill="#5f5f5f" text-anchor="middle">May 4</text>
<text x="1049.8" y="640" font-size="12" fill="#5f5f5f" text-anchor="middle">May 18</text>
<path d="M1095.5 124 L1102.0 113.5 L1150 113.5 L1150 134.5 L1102.0 134.5 Z" fill="#000"/>
<text x="1146.3" y="128.2" font-size="13" font-weight="bold" fill="#fff" text-anchor="end" textLength="39" lengthAdjust="spacingAndGlyphs">1,700.0</text>
<path d="M1095.5 131.3 L1102.0 120.80000000000001 L1150 120.80000000000001 L1150 141.8 L1102.0 141.8 Z" fill="#ef4527"/>
<text x="1146.3" y="135.5" font-size="13" font-weight="bold" fill="#fff" text-anchor="end" textLength="39" lengthAdjust="spacingAndGlyphs">1,691.9</text>
<path d="M1095.5 155.7 L1102.0 145.2 L1150 145.2 L1150 166.2 L1102.0 166.2 Z" fill="#ae2427"/>
<text x="1146.3" y="159.9" font-size="13" font-weight="bold" fill="#fff" text-anchor="end" textLength="39" lengthAdjust="spacingAndGlyphs">1,664.6</text>
<path d="M1095.5 213.8 L1102.0 203.3 L1150 203.3 L1150 224.3 L1102.0 224.3 Z" fill="#000"/>
<text x="1146.3" y="218" font-size="13" font-weight="bold" fill="#fff" text-anchor="end" textLength="39" lengthAdjust="spacingAndGlyphs">1,600.0</text>
<path d="M1095.5 258.6 L1102.0 248.10000000000002 L1150 248.10000000000002 L1150 269.1 L1102.0 269.1 Z" fill="#1034f5"/>
<text x="1146.3" y="262.8" font-size="13" font-weight="bold" fill="#fff" text-anchor="end" textLength="39" lengthAdjust="spacingAndGlyphs">1,550.5</text>
<path d="M1095.5 554.5 L1101.5 544.2 L1138.7 544.2 L1138.7 564.8 L1101.5 564.8 Z" fill="#b94bcf"/>
<text x="1135.2" y="559" font-size="12.5" font-weight="bold" fill="#fff" text-anchor="end">490K</text>
<path d="M1095.5 610.5 L1101.5 600.2 L1126 600.2 L1126 620.8 L1101.5 620.8 Z" fill="#ee4527"/>
<text x="1122.5" y="615" font-size="12.5" font-weight="bold" fill="#fff" text-anchor="end">0K</text>
<text x="20.2" y="23.8" font-size="12" font-weight="bold" fill="#111" textLength="21.8" lengthAdjust="spacingAndGlyphs">null</text>
<path d="M61 16.8 L68 23.3 M68 16.8 L61 23.3" stroke="#666" stroke-width="1.2"/>
<text x="77" y="24" font-size="12" font-weight="bold" fill="#111" textLength="104.6" lengthAdjust="spacingAndGlyphs">MAEXP (50, Close)</text>
<path d="M199.5 16.8 L206.5 23.3 M206.5 16.8 L199.5 23.3" stroke="#666" stroke-width="1.2"/>
<text x="217" y="24" font-size="12" font-weight="bold" fill="#111" textLength="111" lengthAdjust="spacingAndGlyphs">MAEXP (200, Close)</text>
<path d="M1070.6 19.3 L1074.1 22.5 L1077.6 19.3" stroke="#222" stroke-width="1.4" fill="none" stroke-linecap="round"/>
<path d="M22.5 511 L29.5 518 M29.5 511 L22.5 518" stroke="#666" stroke-width="1.2"/>
<text x="39" y="519" font-size="12" font-weight="bold" fill="#111">VOL</text>
<path d="M1070.6 517.6 L1074.1 514.4 L1077.6 517.6" stroke="#222" stroke-width="1.4" fill="none" stroke-linecap="round"/>
</svg></body></html>
